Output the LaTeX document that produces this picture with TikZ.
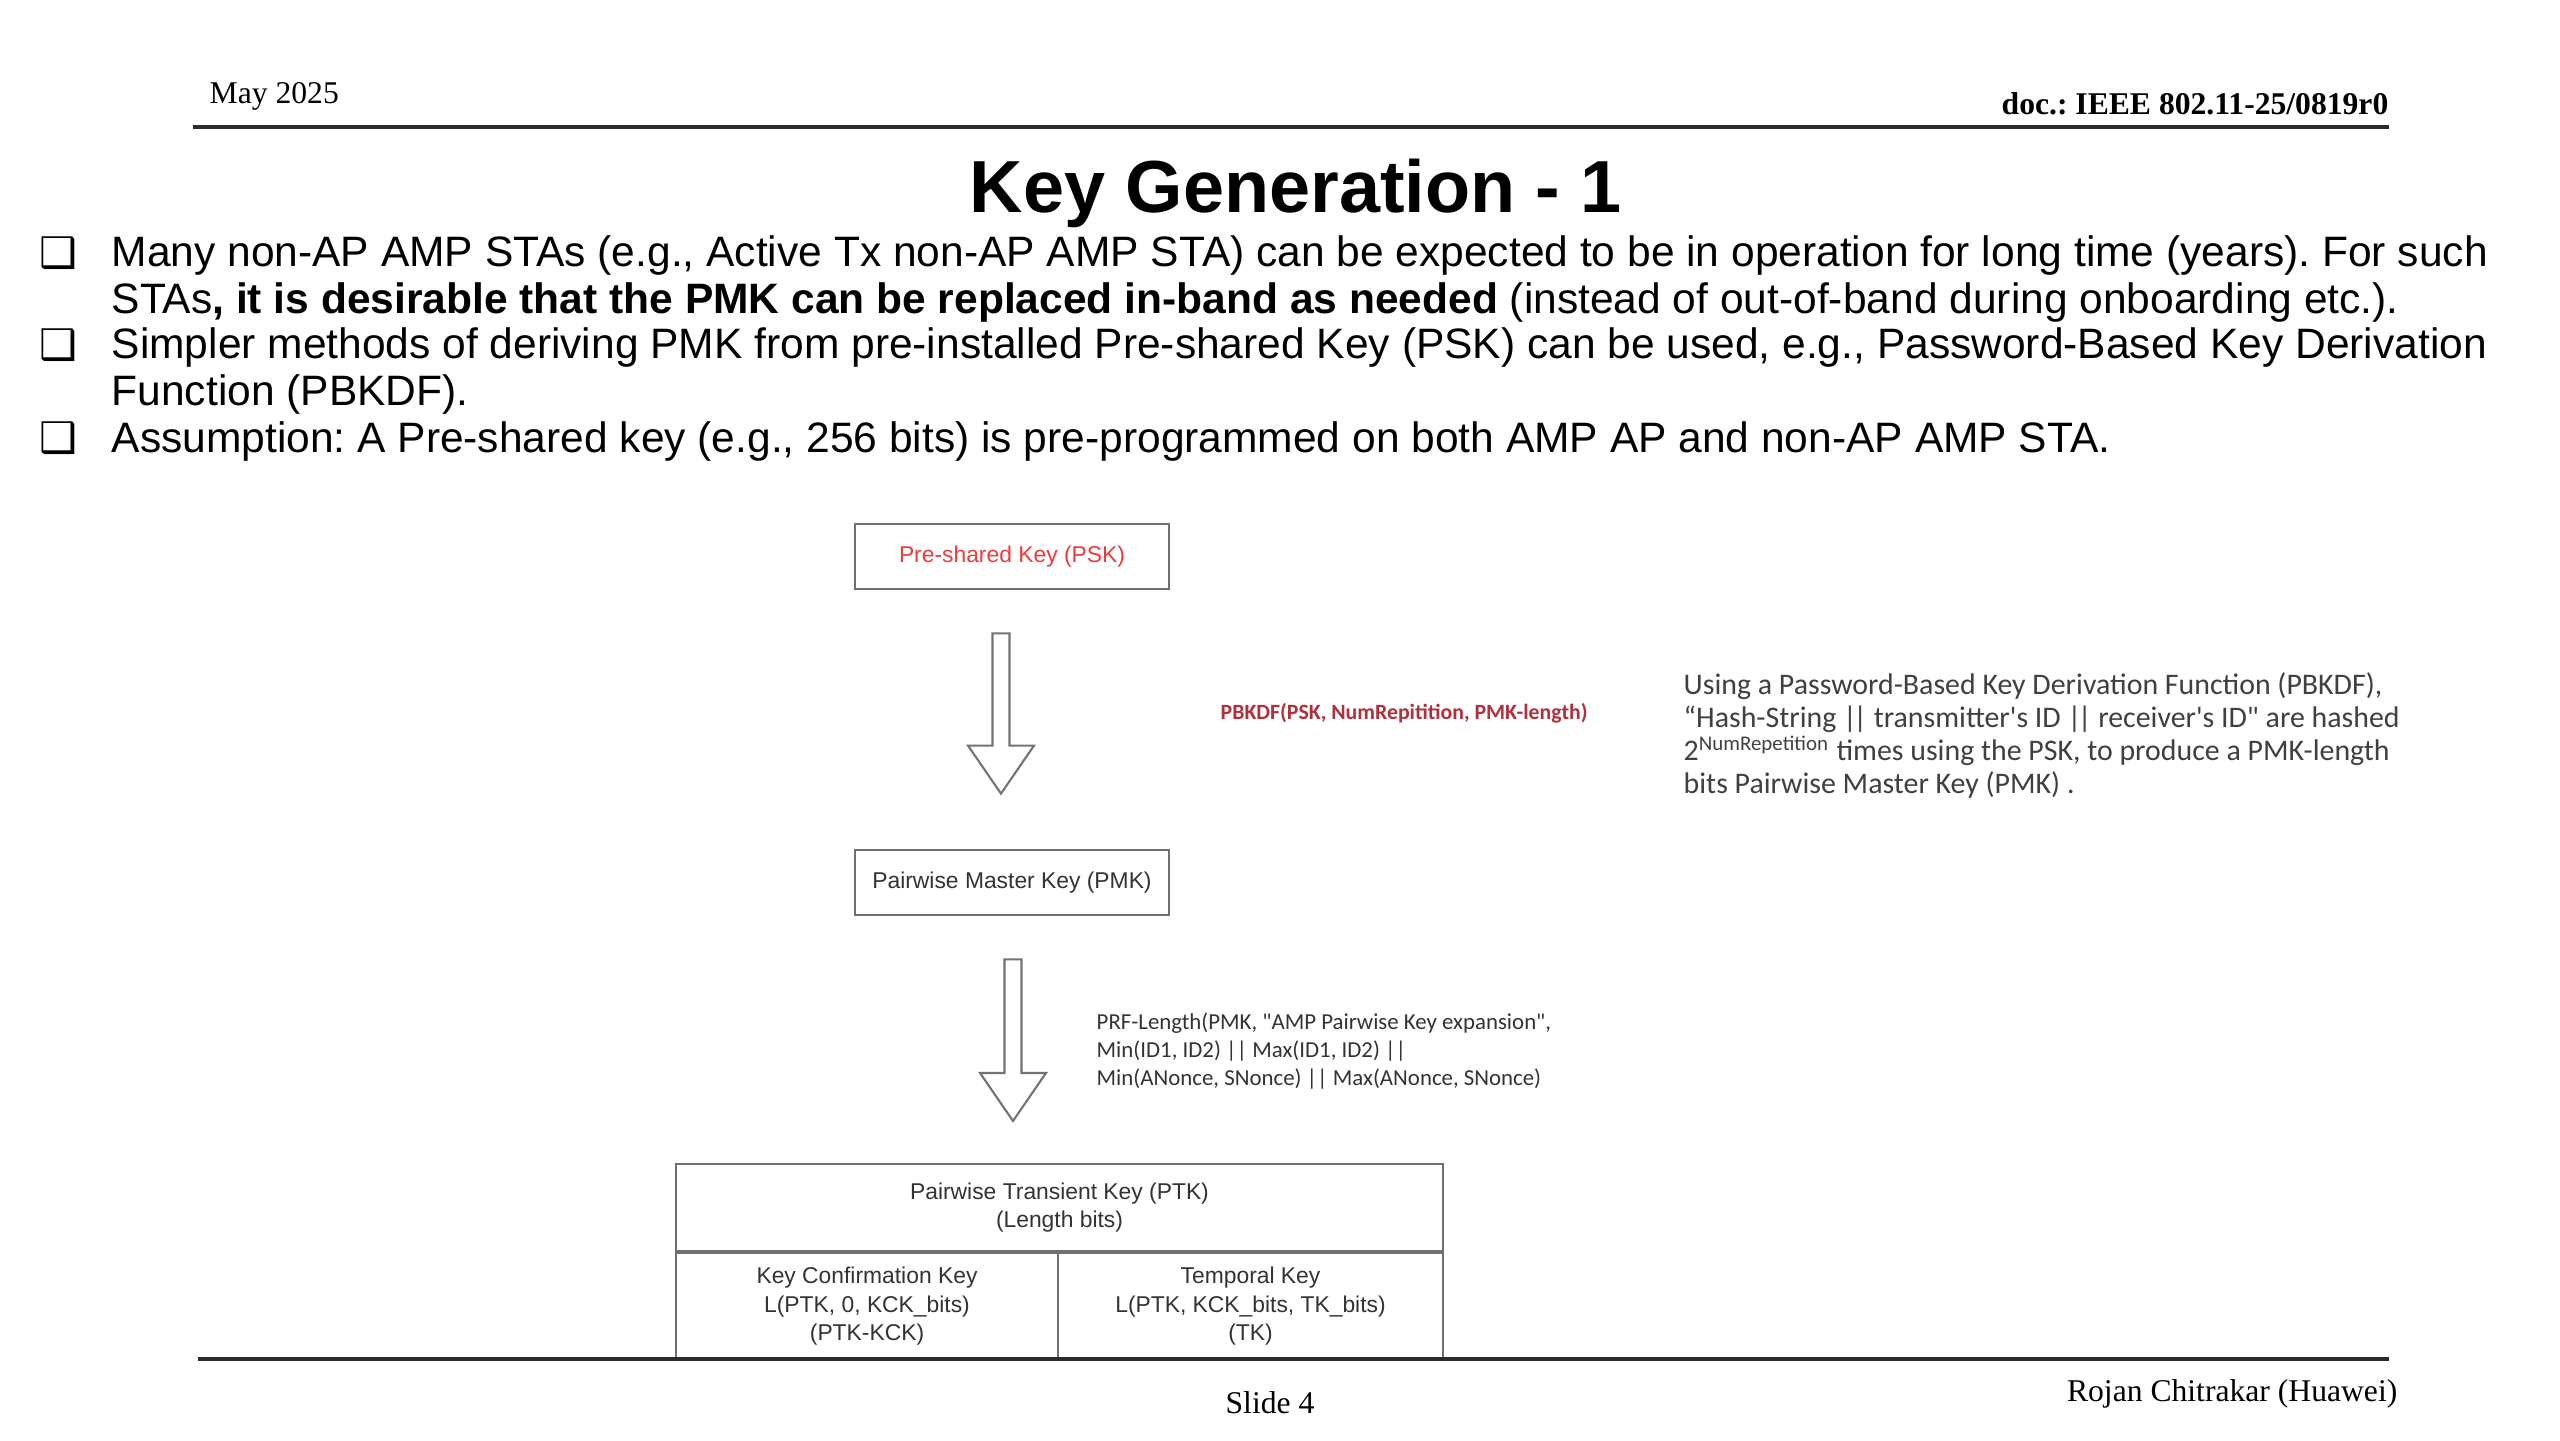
\documentclass[tikz,border=0pt]{standalone}
\usepackage{fontspec}
\setmainfont{Liberation Serif}
\setsansfont{Liberation Sans}
\newfontfamily\calib{Carlito}
\newfontfamily\dvs{DejaVu Sans}
\usetikzlibrary{positioning, calc}
\definecolor{ink}{HTML}{333333}
\definecolor{frame}{HTML}{707070}
\definecolor{pskred}{HTML}{EE3A3A}
\definecolor{kdfred}{HTML}{B0303C}
\definecolor{note}{HTML}{404040}
\definecolor{rulec}{HTML}{2B2B2B}
\frenchspacing

\newcommand{\hollowdown}[2]{%
  \draw[harrow] ($(#1)+(-0.085,0)$) -- ($(#2)+(-0.085,0.48)$) -- ($(#2)+(-0.33,0.48)$) -- (#2)
    -- ($(#2)+(0.33,0.48)$) -- ($(#2)+(0.085,0.48)$) -- ($(#1)+(0.085,0)$) -- cycle;}
\newcommand{\dbar}{|\kern-0.12em|}

\begin{document}
\begin{tikzpicture}[
    box/.style={draw=frame, line width=0.8pt, fill=white, minimum width=3.14cm, minimum height=0.65cm, inner sep=0pt, font=\sffamily\fontsize{6.5}{8}\selectfont, text=ink},
    cell/.style={draw=frame, line width=0.6pt, inner sep=0pt, align=center, font=\sffamily\fontsize{6.5}{8}\selectfont, text=ink},
    harrow/.style={draw=black!55, line width=0.6pt, fill=white, line join=miter},
    item/.style={anchor=base west, align=left, inner sep=0pt, font=\sffamily\fontsize{12.1}{13.1}\selectfont},
    bulletbox/.style={inner sep=0pt, font=\dvs\fontsize{12}{12}\selectfont},
    hdr/.style={inner sep=0pt, font=\rmfamily\fontsize{9}{10}\selectfont},
    rulel/.style={draw=rulec, line width=0.9pt}]
  \fill[white] (0,0) rectangle (25.6,-14.4);
  \useasboundingbox (0,0) rectangle (25.6,-14.4);

  % header and footer
  \node[hdr, anchor=base west] (date) at (2.09,-1.03) {May 2025};
  \node[hdr, anchor=base east, font=\rmfamily\bfseries\fontsize{9}{10}\selectfont] (doc) at (23.89,-1.14) {doc.: IEEE 802.11-25/0819r0};
  \coordinate (tl) at (1.93,-1.27);
  \coordinate (tr) at (23.89,-1.27);
  \draw[rulel] (tl) -- (tr);
  \coordinate (bl) at (1.98,-13.59);
  \coordinate (br) at (23.89,-13.59);
  \node[hdr, anchor=base] (slide) at (12.70,-14.13) {Slide 4};
  \node[hdr, anchor=base east] (author) at (23.98,-14.01) {Rojan Chitrakar (Huawei)};

  \node[anchor=base, inner sep=0pt, font=\sffamily\bfseries\fontsize{21}{24}\selectfont] (title) at (12.96,-2.12) {Key Generation - 1};

  \node[item] (b1) at (1.11,-3.13) {Many non-AP AMP STAs (e.g., Active Tx non-AP AMP STA) can be expected to be in operation for long time (years). For such\\STAs\textbf{, it is desirable that the PMK can be replaced in-band as needed} (instead of out-of-band during onboarding etc.).};
  \node[item] (b2) at (1.11,-4.05) {Simpler methods of deriving PMK from pre-installed Pre-shared Key (PSK) can be used, e.g., Password-Based Key Derivation\\Function (PBKDF).};
  \node[item] (b3) at (1.11,-4.52) {Assumption: A Pre-shared key (e.g., 256 bits) is pre-programmed on both AMP AP and non-AP AMP STA.};
  \foreach \b/\up [count=\i] in {b1/0.46,b2/0.46,b3/0}
    \node[bulletbox, anchor=base] (sq\i) at ($(\b.base west)+(-0.53,\up)$) {❑};

  % key hierarchy
  \node[box, text=pskred] (psk) at (10.12,-5.565) {Pre-shared Key (PSK)};
  \node[box] (pmk) at (10.12,-8.825) {Pairwise Master Key (PMK)};
  \node[cell, minimum width=7.67cm, minimum height=0.87cm] (ptk) at (10.595,-12.075) {Pairwise Transient Key (PTK)\\(Length bits)};
  \node[cell, minimum width=3.82cm, minimum height=1.06cm, anchor=north west] (kck) at (ptk.south west) {Key Confirmation Key\\L(PTK, 0, KCK\_bits)\\(PTK-KCK)};
  \node[cell, minimum width=3.85cm, minimum height=1.06cm, anchor=north east] (tk) at (ptk.south east) {Temporal Key\\L(PTK, KCK\_bits, TK\_bits)\\(TK)};

  \coordinate (a1s) at ($(psk.south)+(-0.11,-0.43)$);
  \coordinate (a1e) at ($(pmk.north)+(-0.11,0.55)$);
  \hollowdown{a1s}{a1e}
  \coordinate (a2s) at ($(pmk.south)+(0.01,-0.43)$);
  \coordinate (a2e) at ($(ptk.north)+(-0.465,0.42)$);
  \hollowdown{a2s}{a2e}

  \node[anchor=west, inner sep=0pt, text=kdfred, font=\calib\bfseries\fontsize{6.2}{7.5}\selectfont] (kdf) at (12.20,-7.13) {PBKDF(PSK, NumRepitition, PMK-length)};
  \node[anchor=west, align=left, inner sep=0pt, text=note, font=\calib\fontsize{8.5}{9.4}\selectfont] (expl) at (16.83,-7.355) {Using a Password-Based Key Derivation Function (PBKDF),\\“Hash-String \dbar{} transmitter's ID \dbar{} receiver's ID" are hashed\\2\textsuperscript{NumRepetition} times using the PSK, to produce a PMK-length\\bits Pairwise Master Key (PMK) .};
  \node[anchor=west, align=left, inner sep=0pt, text=ink, font=\calib\fontsize{6.5}{7.9}\selectfont] (prf) at (10.96,-10.51) {PRF-Length(PMK, "AMP Pairwise Key expansion",\\Min(ID1, ID2) || Max(ID1, ID2) ||\\Min(ANonce, SNonce) || Max(ANonce, SNonce)};

  \draw[rulel] (bl) -- (br);
\end{tikzpicture}
\end{document}
